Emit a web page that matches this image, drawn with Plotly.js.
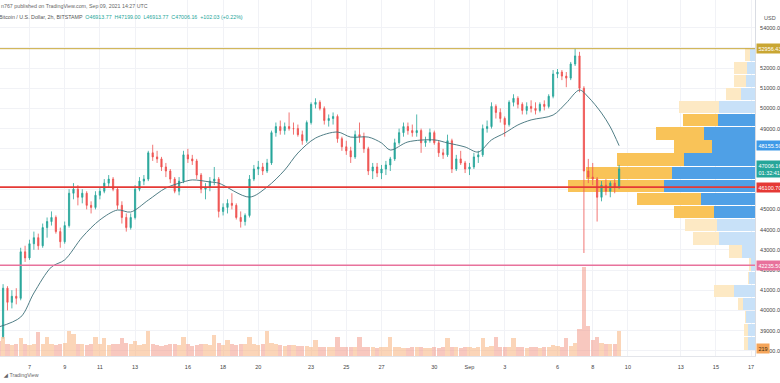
<!DOCTYPE html>
<html>
<head>
<meta charset="utf-8">
<script src="https://cdn.plot.ly/plotly-3.0.1.min.js"></script>
<style>
html,body{margin:0;padding:0;background:#fff;}
#chart{width:780px;height:383px;}
</style>
</head>
<body>
<div id="chart"></div>
<script>
// ---- 6h candles from 2021-08-05 06:00 UTC (BTC/USD, Bitstamp) ----
const candleStart = '2021-08-05T06:00:00Z';
const candleHours = 6;
const openP = [39000,38700,41100,40400,40700,40600,42900,42600,43300,43600,
43200,44100,44400,44600,43900,43400,44200,45800,46000,45600,
45800,45200,45100,45700,45900,46300,46500,46000,45200,44600,
44100,44600,46000,46400,46500,47800,47600,47500,47100,46900,
46500,45900,46400,47700,47500,47400,46700,46000,46100,46400,
46500,44900,45100,45300,45200,44600,44400,44700,46500,47000,
47100,46900,47300,48800,49100,48900,49100,49000,49000,48700,
48400,49300,50200,50300,50000,49400,49500,49600,48500,48100,
47900,47600,48700,48600,48000,46900,47100,46800,47000,47200,
47500,48300,48800,49100,48900,48800,48900,48300,48400,48800,
48300,47800,47700,48400,47000,47500,47300,47000,47100,47600,
47700,49000,49100,50100,49800,49500,49200,50300,50500,50200,
49900,50100,50000,49900,50200,50100,50600,51700,51800,51600,
51500,52200,52600,51000,46900,46600,46500,45600,46200,45900,
46300,46100];
const highP = [39250,41300,41200,41000,41100,43100,43200,43500,43900,43800,
44300,44600,44900,44700,44100,44400,46000,46300,46200,46000,
45900,45400,45900,46100,46500,46700,46600,46100,45400,44800,
44800,46200,46600,46700,47900,48200,47900,47600,47300,47000,
46600,46600,47900,48000,47700,47500,46800,46300,46600,47100,
46600,45300,45500,45800,45300,44900,44800,46700,47200,47400,
47300,47500,48900,49300,49400,49300,49800,49300,49200,48900,
49400,50300,50500,50400,50100,49700,49800,49700,48600,48400,
48100,48900,49300,48800,48100,47300,47300,47200,47400,47600,
48500,49000,49300,49300,49200,49700,49000,48600,49000,48900,
48400,48000,48700,48500,47700,47900,47400,47300,47800,47900,
49200,49400,50300,50200,50000,49600,50400,50700,50600,50300,
50300,50400,50300,50300,50400,50700,51900,51950,51900,51800,
52300,52956.43,52800,51100,47500,47300,46600,46400,46500,46400,
46500,47199];
const lowP = [38500,38600,40000,40100,40300,40500,42400,42500,43000,43000,
43100,43600,44200,43800,43100,43300,44100,45500,45200,45300,
45000,44800,45000,45500,45800,46100,45900,45000,44300,43900,
44000,44500,45900,46200,46400,47400,47300,46900,46600,46300,
45800,45700,46300,47300,47200,46500,45800,45500,45900,46200,
44600,44700,44800,45000,44500,44100,44200,44600,46400,46700,
46700,46800,47200,48600,48700,48700,48900,48700,48600,48200,
48300,49200,50000,49900,49200,49100,49200,48300,47900,47700,
47300,47500,48300,47800,46700,46500,46600,46500,46700,46900,
47400,48200,48600,48700,48600,48600,47800,48100,48300,48200,
47600,47500,47600,46800,46900,47200,46800,46700,47000,47300,
47600,48800,49000,49500,49300,48600,49100,50100,50000,49700,
49700,49800,49700,49800,49900,50000,50500,51500,51400,51050,
51400,52100,50800,42843,46300,46200,44400,45400,45700,45600,
45800,46000];
const closeP = [38700,41100,40400,40700,40600,42900,42600,43300,43600,43200,
44100,44400,44600,43900,43400,44200,45800,46000,45600,45800,
45200,45100,45700,45900,46300,46500,46000,45200,44600,44100,
44600,46000,46400,46500,47800,47600,47500,47100,46900,46500,
45900,46400,47700,47500,47400,46700,46000,46100,46400,46500,
44900,45100,45300,45200,44600,44400,44700,46500,47000,47100,
46900,47300,48800,49100,48900,49100,49000,49000,48700,48400,
49300,50200,50300,50000,49400,49500,49600,48500,48100,47900,
47600,48700,48600,48000,46900,47100,46800,47000,47200,47500,
48300,48800,49100,48900,48800,48900,48300,48400,48800,48300,
47800,47700,48400,47000,47500,47300,47000,47100,47600,47700,
49000,49100,50100,49800,49500,49200,50300,50500,50200,49900,
50100,50000,49900,50200,50100,50600,51700,51800,51600,51500,
52200,52600,51000,46900,46600,46500,45600,46200,45900,46300,
46100,47006.16];
const volumeV = [500,650,420,380,400,600,420,380,400,800,
420,650,400,380,420,450,850,750,420,400,
380,420,650,400,600,380,400,420,600,450,
400,500,380,400,850,420,380,350,380,400,
420,380,650,400,350,380,400,420,380,700,
450,380,550,400,380,420,400,650,420,380,
400,850,450,400,380,350,380,360,340,350,
330,320,550,300,320,300,310,650,320,300,
290,310,650,300,320,290,280,300,290,650,
300,290,280,270,290,300,320,280,270,290,
280,300,600,320,300,280,290,300,280,300,
620,320,350,650,300,320,310,620,300,290,
280,300,290,280,300,320,380,330,310,620,
350,450,900,3000,1000,550,650,450,420,400,
420,850];

// moving average (candle index -> value)
const maIdx = [0,5,8,12,15,19,23,27,30,34,38,42,44,48,50,57,61,65,68,72,77,80,84,87,89,93,99,102,106,109,112,115,118,121,126,129,132,134,137,139,141];
const maVal = [39180,39670,40860,42150,42500,43630,44480,44970,44870,45460,46060,46360,46460,46360,46300,45610,46110,46950,47790,48530,48830,48580,48580,48290,47940,48340,48440,48290,48090,47840,48440,48780,49180,49430,49670,50270,50910,50560,49770,49080,48155.5];

// visible range volume profile
const profMid = [52665,52015,51365,50715,50065,49415,48765,48115,47465,46815,46165,45515,44865,44215,43565,42915,42265,41615,40965,40315,39665,39015,38365];
const profUp = [500,800,900,1400,3600,3700,5100,4300,7100,8300,9100,5400,4100,3800,3600,1300,400,600,2100,1200,900,700,700];
const profDown = [500,1300,1200,1500,4000,3500,4800,3800,6700,8600,9600,6400,4000,3200,2600,1300,200,100,2000,500,100,400,400];
const profInValueArea = [0,0,0,0,0,1,1,1,1,1,1,1,1,0,0,0,0,0,0,0,0,0,0];

// horizontal levels
const levelVals = [52956.43, 46100.70, 42235.50];
const levelColors = ['#c9a83a', '#e53935', '#e8729c'];
const levelWidths = [1, 1.6, 1.6];

// axis ticks
const xTickVals = ['2021-08-07','2021-08-09','2021-08-11','2021-08-13','2021-08-16','2021-08-18','2021-08-20','2021-08-23','2021-08-25','2021-08-27','2021-08-30','2021-09-01','2021-09-03','2021-09-06','2021-09-08','2021-09-10','2021-09-13','2021-09-15','2021-09-17'];
const xTickText = ['7','9','11','13','16','18','20','23','25','27','30','Sep','3','6','8','10','13','15','17'];
const yTickVals = [38000,39000,40000,41000,42000,43000,44000,45000,46000,47000,48000,49000,50000,51000,52000,53000,54000];
const yTickText = ['38000.00','39000.00','40000.00','41000.00','42000.00','43000.00','44000.00','45000.00','','','','49000.00','50000.00','51000.00','52000.00','','54000.00'];

// ---- build ----
const t0 = Date.parse(candleStart);
const times = closeP.map((_, i) => {
  const d = new Date(t0 + i * candleHours * 3600000);
  return d.toISOString().slice(0,16).replace('T',' ');
});
const volColors = closeP.map((c, i) => c >= openP[i] ? 'rgba(247,178,125,0.55)' : 'rgba(242,145,128,0.5)');

const FONT = 'Liberation Sans, Arial, sans-serif';

const traces = [
  {
    type:'bar', orientation:'h', xaxis:'x', yaxis:'y',
    y: profMid, x: profUp, width: 610,
    marker:{color: profInValueArea.map(v => v ? '#4fa0e6' : '#c8e1f8'), line:{width:0}},
    hoverinfo:'skip'
  },
  {
    type:'bar', orientation:'h', xaxis:'x', yaxis:'y',
    y: profMid, x: profDown, width: 610,
    marker:{color: profInValueArea.map(v => v ? '#f9c358' : '#fde9c4'), line:{width:0}},
    hoverinfo:'skip'
  },
  {
    type:'bar', xaxis:'x2', yaxis:'y3',
    x: times, y: volumeV, width: candleHours*3600000*0.92,
    marker:{color: volColors, line:{width:0}},
    hoverinfo:'skip'
  },
  {
    type:'candlestick', xaxis:'x2', yaxis:'y',
    x: times, open: openP, high: highP, low: lowP, close: closeP,
    increasing:{line:{color:'#26a69a', width:0.8}, fillcolor:'#26a69a'},
    decreasing:{line:{color:'#ef5350', width:0.8}, fillcolor:'#ef5350'},
    whiskerwidth:0, hoverinfo:'skip'
  },
  {
    type:'scatter', mode:'lines', xaxis:'x2', yaxis:'y',
    x: maIdx.map(i => times[i]), y: maVal,
    line:{color:'#3d6f78', width:0.9, shape:'spline', smoothing:0.9},
    hoverinfo:'skip'
  }
];

const shapes = levelVals.map((v, k) => ({
  type:'line', xref:'paper', yref:'y', x0:0, x1:1, y0:v, y1:v,
  line:{color: levelColors[k], width: levelWidths[k]}, layer:'above'
}));

function priceLabel(y, text, bg, color) {
  return {xref:'paper', yref:'y', x:1, y:y, xanchor:'left', yanchor:'middle', xshift:1,
    text:text, showarrow:false, bgcolor:bg, borderpad:1.5,
    font:{family:FONT, size:5.5, color:color||'#ffffff'}, align:'left'};
}
const PH = 356; // plot height in px
const annotations = [
  priceLabel(levelVals[0], levelVals[0].toFixed(2), '#c9a633'),
  priceLabel(maVal[maVal.length-1], maVal[maVal.length-1].toFixed(2), '#3f9ae8'),
  priceLabel(closeP[closeP.length-1], closeP[closeP.length-1].toFixed(2) + '<br>01:32:41', '#26a69a'),
  priceLabel(levelVals[1], levelVals[1].toFixed(2), '#e53935'),
  priceLabel(levelVals[2], levelVals[2].toFixed(2), '#e8729c'),
  {xref:'paper', yref:'paper', x:1, y:(PH-348)/PH, xanchor:'left', yanchor:'middle', xshift:1,
   text:'219', showarrow:false, bgcolor:'#f5a55a', borderpad:1.5,
   font:{family:FONT, size:5.5, color:'#3a2a10'}},
  {xref:'paper', yref:'paper', x:1, y:(PH-18)/PH, xanchor:'left', yanchor:'middle', xshift:7,
   text:'USD', showarrow:false, font:{family:FONT, size:5.5, color:'#555'}},
  {xref:'paper', yref:'paper', x:0, y:(PH-6)/PH, xanchor:'left', yanchor:'middle', xshift:-1,
   text:'n767 published on TradingView.com, Sep 09, 2021 14:27 UTC', showarrow:false,
   font:{family:FONT, size:5.3, color:'#666'}},
  {xref:'paper', yref:'paper', x:0, y:(PH-17)/PH, xanchor:'left', yanchor:'middle', xshift:-3,
   text:'Bitcoin / U.S. Dollar, 2h, BITSTAMP  <span style="color:#26a69a">O46913.77  H47199.00  L46913.77  C47006.16  +102.03 (+0.22%)</span>',
   showarrow:false, font:{family:FONT, size:5.3, color:'#555'}},
  {xref:'paper', yref:'paper', x:0, y:(PH-375)/PH, xanchor:'left', yanchor:'middle', xshift:1,
   text:'<b>◢</b> TradingView', showarrow:false, font:{family:FONT, size:5.3, color:'#666'}}
];

const layout = {
  width:780, height:383,
  margin:{l:0, r:25, t:0, b:27, pad:0},
  paper_bgcolor:'#ffffff', plot_bgcolor:'#ffffff',
  showlegend:false, barmode:'stack', bargap:0, boxgap:0.6,
  xaxis:{domain:[0,1], range:[75500,0], visible:false, fixedrange:true, anchor:'y'},
  xaxis2:{overlaying:'x', anchor:'y', side:'bottom', type:'date',
    range:['2021-08-05 07:48','2021-09-17 05:18'],
    tickmode:'array', tickvals:xTickVals, ticktext:xTickText,
    showgrid:true, gridcolor:'#f1f2f6', gridwidth:1,
    ticks:'outside', ticklen:5, tickcolor:'rgba(0,0,0,0)',
    tickfont:{family:FONT, size:5.5, color:'#444'},
    showline:true, linecolor:'#e3e5ea', linewidth:1,
    rangeslider:{visible:false}, zeroline:false},
  yaxis:{side:'right', anchor:'x', range:[37743,55366],
    tickmode:'array', tickvals:yTickVals, ticktext:yTickText,
    showgrid:true, gridcolor:'#f1f2f6', gridwidth:1,
    ticks:'outside', ticklen:3, tickcolor:'rgba(0,0,0,0)',
    tickfont:{family:FONT, size:5.5, color:'#444'},
    showline:true, linecolor:'#d9dce3', linewidth:1, zeroline:false},
  yaxis3:{overlaying:'y', anchor:'x2', range:[0,12000], visible:false},
  shapes:shapes,
  annotations:annotations
};

Plotly.newPlot('chart', traces, layout, {staticPlot:true, displayModeBar:false});
</script>
</body>
</html>
